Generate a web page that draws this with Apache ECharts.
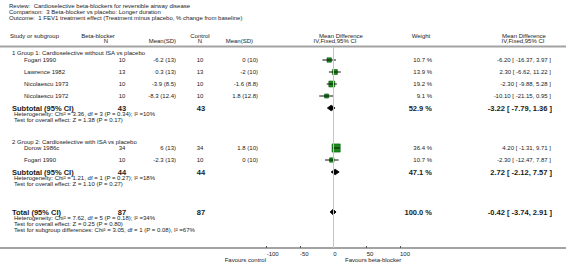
<!DOCTYPE html>
<html>
<head>
<meta charset="utf-8">
<script src="https://cdn.jsdelivr.net/npm/echarts@6/dist/echarts.min.js"></script>
<style>
  html, body { margin: 0; padding: 0; background: #fff; }
  #chart { width: 566px; height: 272px; }
</style>
</head>
<body>
<div id="chart"></div>
<script>
// ---- data ----
const studies = ['Fogari 1990', 'Lawrence 1982', 'Nicolaescu 1973', 'Nicolaescu 1972', 'Dorow 1986c', 'Fogari 1990']
const bbN = [10, 13, 10, 10, 34, 10]
const bbMeanSD = ['-6.2 (13)', '0.3 (13)', '-3.9 (8.5)', '-8.3 (12.4)', '6 (13)', '-2.3 (13)']
const ctlN = [10, 13, 10, 10, 34, 10]
const ctlMeanSD = ['0 (10)', '-2 (10)', '-1.6 (8.8)', '1.8 (12.8)', '1.8 (10)', '0 (10)']
const weight = [10.7, 13.9, 19.2, 9.1, 36.4, 10.7]
const md = [-6.20, 2.30, -2.30, -10.10, 4.20, -2.30]
const ciLow = [-16.37, -6.62, -9.88, -21.15, -1.31, -12.47]
const ciHigh = [3.97, 11.22, 5.28, 0.95, 9.71, 7.87]

const groupLabels = ['1 Group 1: Cardioselective without ISA vs placebo', '2 Group 2: Cardioselective with ISA vs placebo']
const subN = [43, 44]
const subWeight = [52.9, 47.1]
const subMd = [-3.22, 2.72]
const subLow = [-7.79, -2.12]
const subHigh = [1.36, 7.57]
const subHet = [
  'Heterogeneity: Chi\u00b2 = 3.36, df = 3 (P = 0.34); I\u00b2 =10%',
  'Heterogeneity: Chi\u00b2 = 1.21, df = 1 (P = 0.27); I\u00b2 =18%'
]
const subTest = ['Test for overall effect: Z = 1.38 (P = 0.17)', 'Test for overall effect: Z = 1.10 (P = 0.27)']

const totN = 87
const totWeight = 100.0
const totMd = -0.42
const totLow = -3.74
const totHigh = 2.91
const totNotes = [
  'Heterogeneity: Chi\u00b2 = 7.62, df = 5 (P = 0.18); I\u00b2 =34%',
  'Test for overall effect: Z = 0.25 (P = 0.80)',
  'Test for subgroup differences: Chi\u00b2 = 3.05, df = 1 (P = 0.08), I\u00b2 =67%'
]

// ---- layout (pixels) ----
const studyY = [60, 72, 84, 96, 148, 160]
const groupY = [53, 141.5]
const subY = [108, 172]
const totY = 212
const plotTop = 47, axisY = 248
const FONT = 'Liberation Sans, Arial, sans-serif'
const INK = '#1a1a1a'

const f2 = v => v.toFixed(2)
const ciText = (m, lo, hi) => f2(m) + ' [ ' + f2(lo) + ', ' + f2(hi) + ' ]'

const texts = []
function t(x, y, s, align, size, bold) {
  texts.push({
    type: 'text', silent: true,
    style: {
      x: x, y: y, text: s,
      font: (bold ? 'bold ' : '') + (size || 6) + 'px ' + FONT,
      fill: INK, textAlign: align || 'left', textVerticalAlign: 'middle'
    }
  })
}

// title block
t(9, 5.5, 'Review:  Cardioselective beta-blockers for reversible airway disease')
t(9, 11.5, 'Comparison:  3 Beta-blocker vs placebo: Longer duration')
t(9, 17.5, 'Outcome:  1 FEV1 treatment effect (Treatment minus placebo, % change from baseline)')

// column headers
const h1 = 35.5, h2 = 41
t(10, h1, 'Study or subgroup')
t(98, h1, 'Beta-blocker', 'center')
t(106, h2, 'N', 'center')
t(176, h2, 'Mean(SD)', 'right')
t(200, h1, 'Control', 'center')
t(200, h2, 'N', 'center')
t(253, h2, 'Mean(SD)', 'right')
t(341, h1, 'Mean Difference', 'center')
t(335, h2, 'IV,Fixed,95% CI', 'center')
t(421, h1, 'Weight', 'center')
t(524, h1, 'Mean Difference', 'center')
t(523, h2, 'IV,Fixed,95% CI', 'center')

// study rows
studies.forEach((s, i) => {
  const y = studyY[i]
  t(24, y, s)
  t(122, y, String(bbN[i]), 'center')
  t(176, y, bbMeanSD[i], 'right')
  t(200, y, String(ctlN[i]), 'center')
  t(258, y, ctlMeanSD[i], 'right')
  t(432, y, weight[i].toFixed(1) + ' %', 'right')
  t(551, y, ciText(md[i], ciLow[i], ciHigh[i]), 'right')
})

// subgroup blocks
groupLabels.forEach((g, k) => {
  t(12, groupY[k], g)
  const y = subY[k]
  t(12, y, 'Subtotal (95% CI)', 'left', 7.5, true)
  t(122, y, String(subN[k]), 'center', 7.5, true)
  t(201, y, String(subN[k]), 'center', 7.5, true)
  t(432, y, subWeight[k].toFixed(1) + ' %', 'right', 7.5, true)
  t(552, y, ciText(subMd[k], subLow[k], subHigh[k]), 'right', 7.5, true)
  t(14, y + 6.3, subHet[k])
  t(14, y + 12, subTest[k])
})

// overall
t(12, totY, 'Total (95% CI)', 'left', 7.5, true)
t(122, totY, String(totN), 'center', 7.5, true)
t(201, totY, String(totN), 'center', 7.5, true)
t(432, totY, totWeight.toFixed(1) + ' %', 'right', 7.5, true)
t(552, totY, ciText(totMd, totLow, totHigh), 'right', 7.5, true)
totNotes.forEach((s, i) => t(14, totY + 6.3 + i * 5.8, s))

// favours labels
t(266, 260, 'Favours control', 'right')
t(345, 260, 'Favours beta-blocker', 'left')

const rules = [plotTop - 0.5, axisY].map(y => ({
  type: 'line', silent: true, z: -1,
  shape: { x1: 0, y1: y, x2: 566, y2: y },
  style: { stroke: '#a3a3a3', lineWidth: 2 }
}))

const chart = echarts.init(document.getElementById('chart'), null, { renderer: 'svg' })

const option = {
  animation: false,
  grid: { left: 266.67, width: 133.33, top: plotTop, height: axisY - plotTop },
  xAxis: {
    type: 'value', min: -100, max: 100, interval: 50,
    axisLine: { show: false },
    axisTick: { show: true, inside: true, length: 2, lineStyle: { color: '#555', width: 1 } },
    axisLabel: { fontSize: 6, fontFamily: FONT, color: INK, align: 'left', margin: 3,
      showMinLabel: true, showMaxLabel: true },
    splitLine: { show: false }
  },
  yAxis: { type: 'value', min: plotTop, max: axisY, inverse: true, show: false },
  series: [
    {
      type: 'scatter', name: 'studies',
      symbol: 'rect',
      symbolSize: d => Math.sqrt(d[2]) * 1.35,
      itemStyle: { color: '#1b8a1b', borderColor: '#0c5c0c', borderWidth: 0.6, opacity: 1 },
      data: md.map((m, i) => [m, studyY[i], weight[i]]),
      z: 2,
      markLine: {
        silent: true, symbol: 'none', label: { show: false },
        lineStyle: { color: '#c4c4c4', width: 1, type: 'solid' },
        data: [{ xAxis: 0 }]
      }
    },
    {
      type: 'custom', name: 'ci',
      z: 3,
      renderItem: (params, api) => {
        const a = api.coord([api.value(0), api.value(2)])
        const b = api.coord([api.value(1), api.value(2)])
        return { type: 'line', shape: { x1: a[0], y1: a[1], x2: b[0], y2: b[1] },
          style: { stroke: '#111', lineWidth: 1 } }
      },
      data: ciLow.map((lo, i) => [lo, ciHigh[i], studyY[i]])
    },
    {
      type: 'custom', name: 'pooled',
      z: 4,
      renderItem: (params, api) => {
        const y = api.value(3)
        const l = api.coord([api.value(0), y])
        const c = api.coord([api.value(1), y])
        const r = api.coord([api.value(2), y])
        const h = 2.8
        return { type: 'polygon',
          shape: { points: [[l[0] - 0.8, l[1]], [c[0], c[1] - h], [r[0] + 0.8, r[1]], [c[0], c[1] + h]] },
          style: { fill: '#000', stroke: '#000', lineWidth: 0.8 } }
      },
      data: [
        [subLow[0], subMd[0], subHigh[0], subY[0]],
        [subLow[1], subMd[1], subHigh[1], subY[1]],
        [totLow, totMd, totHigh, totY]
      ]
    }
  ],
  graphic: { elements: rules.concat(texts) }
}

chart.setOption(option)
</script>
</body>
</html>
